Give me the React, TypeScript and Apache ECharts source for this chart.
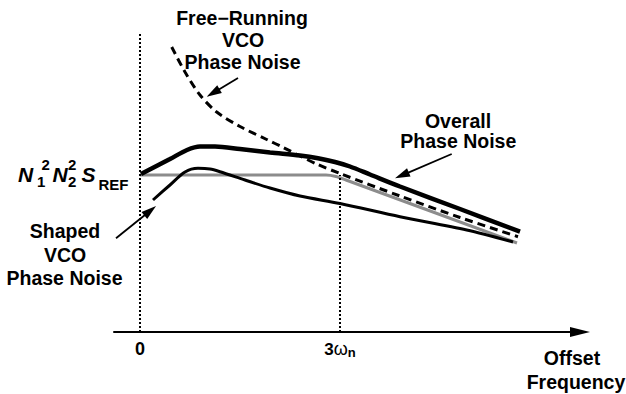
import React, { useEffect, useRef } from "react";
import * as echarts from "echarts";

// Horizontal unit: offset frequency (0 at the origin, 200 at 3ωn); vertical unit: noise level.
const xTickValues = [0, 200];
const xTickLabels = ["{z|0}", "{d|3}{w|ω}{s|n}"];

// Reference floor N1² N2² S_REF shaped by the loop
const sRefFloor = [
  [0, 157], [186, 157], [196, 155.5], [206, 152], [377, 89],
];
// Overall output phase noise
const overallNoise = [
  [1, 158], [30, 173], [47, 182], [60, 185.5], [75, 185.5], [100, 183],
  [130, 179.5], [160, 176.5], [178, 173.8], [195, 170], [210, 165.5],
  [230, 157.5], [260, 145.5], [320, 123], [380, 100.3],
];
// Free-running VCO phase noise
const freeRunningVco = [
  [31.7, 285], [45, 260], [60, 237], [76.7, 220], [100, 205.5],
  [126.7, 192.5], [143.3, 184.5], [160, 176], [176.7, 168], [200, 158.5],
  [260, 136], [320, 114.5], [378, 95.3],
];
// VCO phase noise after high-pass shaping by the loop
const shapedVco = [
  [13, 132], [30, 147], [45, 160], [58, 163.7], [70, 163], [80, 160.3],
  [105, 152], [130, 144], [160, 136], [200, 128.5], [260, 115.3],
  [326.7, 102], [373, 90],
];

// Dotted guides: [x, top level]
const guides = [
  [0, 300],
  [200, 157],
];

// Callout arrows: [from, to] in data units
const callouts = [
  [[98, 254], [73.1, 239.1]],
  [[311.7, 178], [261.9, 156.7]],
  [[-24, 93.7], [10.2, 121.3]],
];

const FONT = "'Liberation Sans', Arial, Helvetica, sans-serif";

const textEl = (
  text: string,
  x: number,
  y: number,
  size: number,
  align: string = "center",
  italic = false
) => ({
  type: "text",
  x,
  y,
  silent: true,
  style: {
    text,
    fill: "#000",
    font: `${italic ? "italic " : ""}bold ${size}px ${FONT}`,
    align,
    verticalAlign: "middle",
  },
});

export default function App() {
  const ref = useRef<HTMLDivElement>(null);

  useEffect(() => {
    document.body.style.margin = "0";
    const chart = echarts.init(ref.current!, null, { renderer: "svg" });

    const option = {
      animation: false,
      backgroundColor: "#fff",
      grid: { left: 114, right: 46, top: 32, bottom: 62 },
      xAxis: {
        type: "value",
        min: -26,
        max: 440,
        splitLine: { show: false },
        axisTick: { show: false },
        axisLine: {
          show: true,
          onZero: false,
          symbol: ["none", "triangle"],
          symbolSize: [10, 20],
          lineStyle: { color: "#000", width: 2 },
        },
        axisLabel: {
          customValues: xTickValues,
          margin: 7,
          formatter: (v: number) => xTickLabels[xTickValues.indexOf(v)] ?? "",
          rich: {
            z: { fontSize: 18, fontWeight: "bold", fontFamily: FONT, color: "#000", lineHeight: 20 },
            d: { fontSize: 17, fontWeight: "bold", fontFamily: FONT, color: "#000", lineHeight: 20 },
            w: { fontSize: 18, fontWeight: "normal", fontFamily: FONT, color: "#000", lineHeight: 20 },
            s: {
              fontSize: 13,
              fontWeight: "bold",
              fontFamily: FONT,
              color: "#000",
              lineHeight: 10,
              verticalAlign: "bottom",
            },
          },
        },
      },
      yAxis: { type: "value", min: 0, max: 300, show: false },
      series: [
        {
          name: "floor",
          type: "line",
          data: sRefFloor,
          smooth: 0.3,
          symbol: "none",
          lineStyle: { color: "#8c8c8c", width: 3 },
          silent: true,
          markLine: {
            silent: true,
            symbol: ["none", "none"],
            label: { show: false },
            lineStyle: { color: "#000", width: 2, type: [2, 2] },
            data: guides.map(([x, top]) => [{ coord: [x, 0] }, { coord: [x, top] }]),
          },
        },
        {
          name: "shaped",
          type: "line",
          data: shapedVco,
          smooth: 0.3,
          symbol: "none",
          lineStyle: { color: "#000", width: 3 },
          silent: true,
          markLine: {
            silent: true,
            label: { show: false },
            lineStyle: { color: "#000", width: 1.8, type: "solid" },
            data: callouts.map(([a, b]) => [
              { coord: a, symbol: "none" },
              { coord: b, symbol: "triangle", symbolSize: [9, 15] },
            ]),
          },
        },
        {
          name: "free",
          type: "line",
          data: freeRunningVco,
          smooth: 0.3,
          symbol: "none",
          lineStyle: { color: "#000", width: 3, type: [8, 5] },
          silent: true,
        },
        {
          name: "overall",
          type: "line",
          data: overallNoise,
          smooth: 0.3,
          symbol: "none",
          lineStyle: { color: "#000", width: 4.5 },
          silent: true,
        },
      ],
      graphic: [
        textEl("Free−Running", 242, 18, 19.5),
        textEl("VCO", 243, 40, 19.5),
        textEl("Phase Noise", 242.5, 62, 19.5),
        textEl("Overall", 458, 120.5, 19.5),
        textEl("Phase Noise", 458.3, 140.5, 19.5),
        textEl("Shaped", 65, 231, 19.5),
        textEl("VCO", 65, 254.5, 19.5),
        textEl("Phase Noise", 64.5, 278, 19.5),
        textEl("Offset", 572, 358, 19.5),
        textEl("Frequency", 576, 381.5, 19.5),
        textEl("N", 18, 174.5, 21, "left", true),
        textEl("2", 41.5, 164.5, 15, "left"),
        textEl("1", 37, 181.5, 15, "left"),
        textEl("N", 52.5, 174.5, 21, "left", true),
        textEl("2", 68, 164.5, 15, "left"),
        textEl("2", 68, 181.5, 15, "left"),
        textEl("S", 81.5, 174.5, 21, "left", true),
        textEl("REF", 98.5, 184, 15, "left"),
      ],
    };

    chart.setOption(option as any);
    return () => chart.dispose();
  }, []);

  return (
    <div
      ref={ref}
      style={{ position: "fixed", left: 0, top: 0, width: 626, height: 394, background: "#fff" }}
    />
  );
}
